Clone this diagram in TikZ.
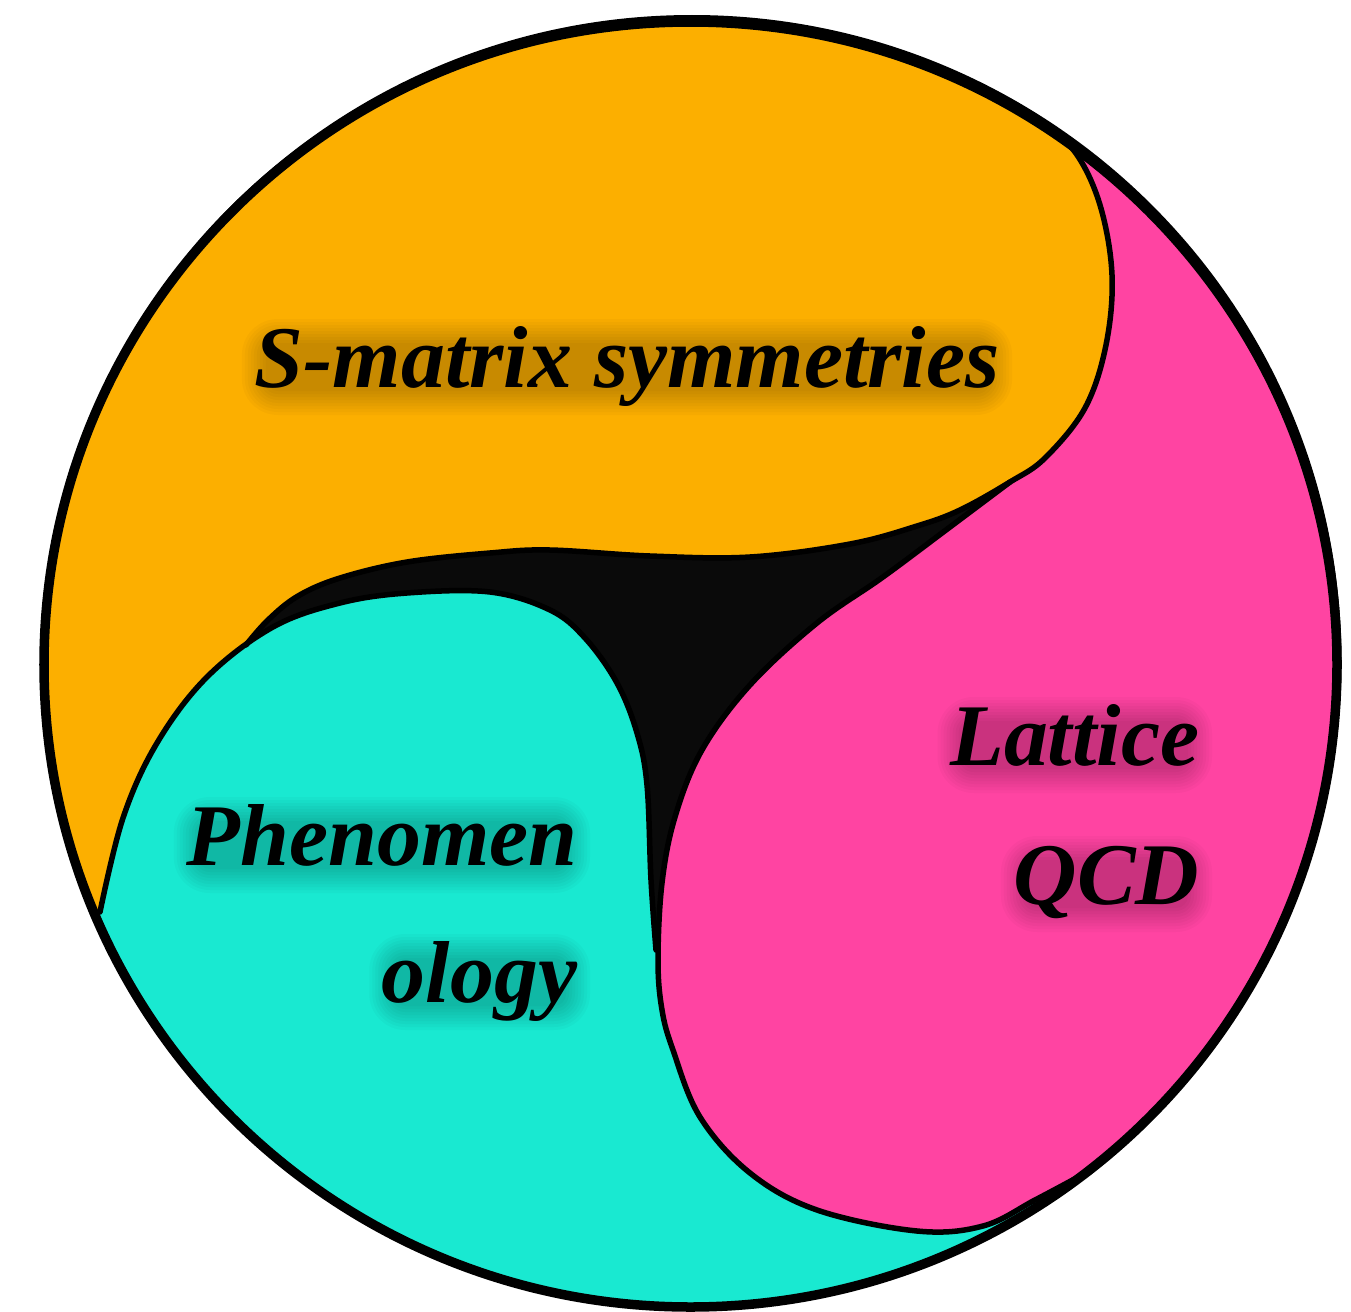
\documentclass[tikz,border=0pt]{standalone}
\usepackage{fontspec}
\setmainfont{Liberation Serif}
\usetikzlibrary{calc}
\definecolor{corange}{HTML}{FCAF00}
\definecolor{cpink}{HTML}{FF44A2}
\definecolor{ccyan}{HTML}{19E9D1}
\definecolor{cblack}{HTML}{0A0A0A}
\newcommand\glowlabel[4]{%
  \node[lbl, anchor=#3] (#1) at (#2) {#4};
  \foreach \gd in {0,3,...,24}{%
    \fill[black, opacity=0.022, rounded corners=(12+\gd)*0.01cm]
      ($(#1.base west)+(12-\gd,4+\gd)$) rectangle ($(#1.base east)+(-12+\gd,-44-\gd)$);
  }%
}
\begin{document}
\begin{tikzpicture}[x=0.01cm,y=-0.01cm,
  edge/.style={line width=0.055cm, line join=round, line cap=round},
  rim/.style={line width=0.095cm},
  lbl/.style={font=\fontsize{25}{30}\selectfont\bfseries\itshape, inner sep=0pt},
]
\useasboundingbox (0,0) rectangle (1351,1312);
\coordinate (O) at (690.5,664.5);
\begin{scope}
\clip (O) ellipse [x radius=646.5, y radius=642.5];
\fill[cblack] (O) ellipse [x radius=660, y radius=660];
% orange
\fill[corange] (0,1000) -- (0,0) -- (1060,0) -- (1040,122)
 -- plot[smooth, tension=0.6] coordinates {(1040,122) (1075,152) (1100,205) (1112,275) (1106,345) (1085,408) (1045,458) (1010,482) (960,510) (917,526) (850,544) (750,557) (650,556) (550,550) (490,553) (407,562) (340,578) (298,596) (268,620) (246,645) (225,675) (195,712) (163,765) (137,830) (118,912)} -- cycle;
% cyan
\fill[ccyan] (0,1000) -- (100,912)
 -- plot[smooth, tension=0.6] coordinates {(100,912) (123,818) (157,743) (207,677) (273,627) (340,603) (407,593) (490,592) (550,610) (585,638) (617,683) (637,733) (647,785) (651,880) (656,950) (672,1020) (695,1080) (730,1135) (780,1175) (845,1203) (917,1222) (985,1218) (1040,1192) (1090,1168)} -- (1200,1160) -- (1351,1312) -- (0,1312) -- cycle;
% pink
\fill[cpink] (1351,0) -- (1060,0) -- (1040,122)
 -- plot[smooth, tension=0.6] coordinates {(1040,122) (1075,152) (1100,205) (1112,275) (1106,345) (1085,408) (1045,458) (1010,482) (950,527) (883,577) (817,623) (750,685) (702,750) (675,817) (662,883) (658,960) (662,1010) (673,1050) (700,1117) (750,1173) (817,1210) (917,1231) (983,1226) (1035,1200) (1080,1176)} -- (1200,1312) -- (1351,1312) -- cycle;
% outlines
\draw[edge] plot[smooth, tension=0.6] coordinates {(1040,122) (1075,152) (1100,205) (1112,275) (1106,345) (1085,408) (1045,458) (1010,482) (960,510) (917,526) (850,544) (750,557) (650,556) (550,550) (490,553) (407,562) (340,578) (298,596) (268,620) (246,645)};
\draw[edge] plot[smooth, tension=0.6] coordinates {(100,912) (123,818) (157,743) (207,677) (273,627) (340,603) (407,593) (490,592) (550,610) (585,638) (617,683) (637,733) (647,785) (651,880) (656,950)};
\draw[edge] plot[smooth, tension=0.6] coordinates {(1010,482) (950,527) (883,577) (817,623) (750,685) (702,750) (675,817) (662,883) (658,960) (662,1010) (673,1050) (700,1117) (750,1173) (817,1210) (917,1231) (983,1226) (1035,1200) (1080,1176)};
\end{scope}
\draw[rim] (O) ellipse [x radius=646.5, y radius=642.5];
\draw[line width=0.03cm] ($(O)+(1.5,-3)$) ellipse [x radius=648, y radius=645];
% labels
\coordinate (pS) at (627,387);
\coordinate (pP) at (578,865);
\coordinate (pO) at (578,1002);
\coordinate (pL) at (1200,765);
\coordinate (pQ) at (1200,904);
\glowlabel{smatrix}{pS}{base}{S-matrix symmetries}
\glowlabel{phen}{pP}{base east}{Phenomen}
\glowlabel{ology}{pO}{base east}{ology}
\glowlabel{latt}{pL}{base east}{Lattice}
\glowlabel{qcd}{pQ}{base east}{QCD}
\end{tikzpicture}
\end{document}
